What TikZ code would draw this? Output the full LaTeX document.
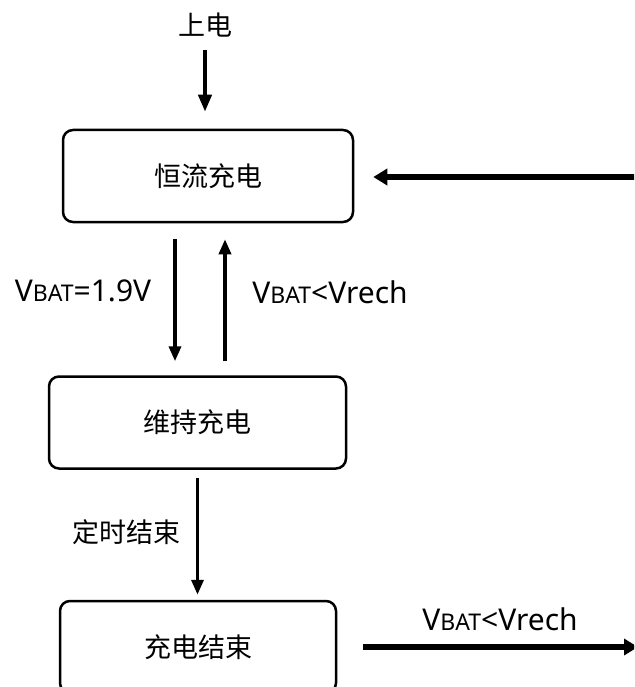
\documentclass[tikz,border=0pt]{standalone}
\usepackage{fontspec}
\setmainfont{Noto Sans}
\newfontfamily\cjk{Noto Sans CJK SC}
\usetikzlibrary{arrows.meta}
\newcommand{\vbat}{V{\fontsize{23}{23}\selectfont BAT}}

\begin{document}
\begin{tikzpicture}[x=1pt,y=-1pt,
    stbox/.style={draw,line width=2.5pt,rounded corners=10pt,minimum width=#1,
        minimum height=92pt,font=\cjk\fontsize{27}{27}\selectfont},
    lab/.style={inner sep=0pt,font=\fontsize{30}{30}\selectfont},
    cjklab/.style={inner sep=0pt,font=\cjk\fontsize{27}{27}\selectfont},
    flowa/.style={line width=4pt,-{Triangle[length=17pt,width=13pt]}},
    flowb/.style={line width=3.5pt,-{Triangle[length=15pt,width=12pt]}},
    flowc/.style={line width=6pt,-{Triangle[length=14pt,width=16pt]}}]
    \useasboundingbox (0,0) rectangle (634,687);
    \clip (0,0) rectangle (634,687);
    \node[stbox=290pt] (cc) at (208,176) {恒流充电};
    \node[stbox=297pt] (hold) at (197.5,422.5) {维持充电};
    \node[stbox=276pt] (done) at (198,647) {充电结束};
    \node[cjklab] (power) at (205,25) {上电};
    \node[lab] (l1) at (83,291) {\vbat=1.9V};
    \node[lab] (l2) at (330,292) {\vbat<Vrech};
    \node[cjklab] (l3) at (126,532) {定时结束};
    \node[lab] (l4) at (500,619) {\vbat<Vrech};
    \coordinate (in) at (645,177);
    \coordinate (out) at (638,647);
    \draw[flowa,shorten <=25pt,shorten >=17pt] (power.center) -- (power.center |- cc.north);
    \draw[flowb,shorten <=16pt,shorten >=14pt] ([xshift=-33pt]cc.south) -- ([xshift=-33pt]cc.south |- hold.north);
    \draw[flowb,shorten <=14pt,shorten >=16pt] ([xshift=17pt]cc.south |- hold.north) -- ([xshift=17pt]cc.south);
    \draw[flowb,shorten <=8pt,shorten >=5pt] (hold.south) -- (hold.south |- done.north);
    \draw[flowc,shorten >=19pt] (in) -- (in -| cc.east);
    \draw[flowc,shorten <=26pt] (done.east) -- (out);
\end{tikzpicture}
\end{document}
